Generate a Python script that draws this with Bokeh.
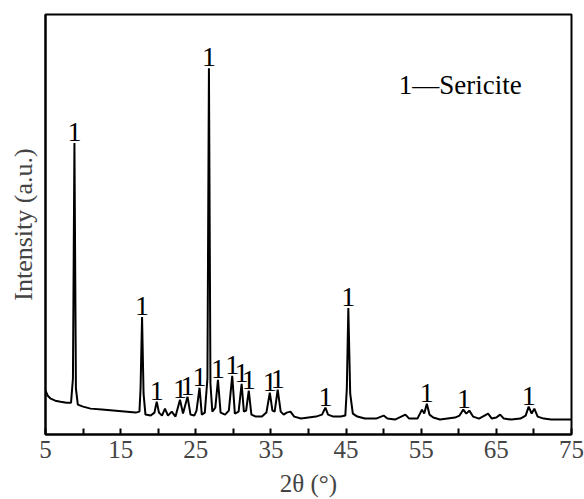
from bokeh.plotting import figure
from bokeh.models import ColumnDataSource, FixedTicker, Range1d, Label
from bokeh.core.properties import value
from bokeh.embed import file_html
from bokeh.resources import INLINE

# XRD pattern (2theta in degrees, intensity in arbitrary units)
two_theta = [5.0, 5.3, 5.7, 6.3, 7.0, 7.8, 8.4, 8.65, 8.85, 9.05, 9.3, 10.0, 11.0, 12.5, 14.0,
             15.5, 17.0, 17.5, 17.65, 17.85, 18.05, 18.3, 19.0, 19.5, 19.8, 20.1, 20.5, 20.9,
             21.3, 21.8, 22.3, 22.9, 23.3, 23.9, 24.3, 24.8, 25.1, 25.5, 25.8, 26.2, 26.55,
             26.75, 26.95, 27.2, 27.6, 27.95, 28.3, 28.9, 29.4, 29.85, 30.2, 30.7, 31.1, 31.4,
             31.7, 32.05, 32.4, 33.0, 33.8, 34.4, 34.85, 35.2, 35.5, 35.9, 36.3, 36.7, 37.1,
             37.6, 38.1, 39.0, 40.0, 41.0, 41.8, 42.25, 42.6, 43.3, 44.3, 44.9, 45.1, 45.3,
             45.55, 45.9, 46.5, 47.5, 49.0, 50.0, 50.5, 51.5, 52.9, 53.4, 54.5, 55.1, 55.4,
             55.75, 56.1, 56.6, 57.5, 58.5, 59.5, 60.1, 60.6, 61.0, 61.4, 61.9, 62.7, 63.9,
             64.4, 65.0, 65.5, 66.0, 67.0, 68.2, 68.9, 69.3, 69.7, 70.05, 70.5, 71.3, 72.3,
             73.5, 75.0]
intensity = [44, 39, 36, 34, 33, 32, 32, 56, 293, 46, 30, 28, 26, 25, 24,
             23, 22, 23, 46, 118, 41, 20, 19, 22, 33, 22, 19, 26,
             19, 23, 18, 35, 21, 38, 20, 19, 24, 47, 20, 22, 56,
             368, 51, 23, 27, 55, 22, 20, 24, 59, 21, 23, 51, 23,
             24, 44, 20, 18, 18, 22, 42, 24, 23, 45, 23, 20, 22,
             23, 18, 16, 17, 18, 20, 27, 20, 18, 18, 19, 46, 127,
             41, 21, 18, 16, 16, 19, 16, 15, 20, 16, 16, 25, 21,
             31, 20, 17, 15, 16, 17, 19, 25, 21, 24, 18, 16, 21,
             16, 17, 20, 16, 15, 16, 19, 28, 21, 26, 18, 16, 15,
             15, 15]

# Sericite peak markers ("1")
peak_theta = [8.85, 17.85, 19.8, 22.9, 23.9, 25.5, 26.75, 27.95, 29.85, 31.1, 32.05,
              34.85, 35.9, 42.25, 45.3, 55.75, 60.7, 69.3]
peak_height = [293, 118, 33, 35, 38, 47, 368, 55, 59, 51, 44,
               42, 45, 27, 127, 31, 25, 28]
peak_label = ["1"] * len(peak_theta)

x_ticks = [5, 15, 25, 35, 45, 55, 65, 75]
x_minor = [10, 20, 30, 40, 50, 60, 70]

SERIF = "Liberation Serif"

p = figure(width=584, height=499, output_backend="svg", toolbar_location=None,
           x_range=Range1d(5, 75), y_range=Range1d(0, 422),
           min_border_left=45, min_border_right=13, min_border_top=14, min_border_bottom=63)

p.background_fill_color = "white"
p.border_fill_color = "white"
p.outline_line_color = "black"
p.outline_line_width = 2
p.xgrid.visible = False
p.ygrid.visible = False

src = ColumnDataSource(dict(x=two_theta, y=intensity))
p.line("x", "y", source=src, line_color="black", line_width=2)

lab = ColumnDataSource(dict(x=peak_theta, y=peak_height, t=peak_label))
p.text("x", "y", text="t", source=lab, text_font=value(SERIF), text_font_size="28px",
       text_align="center", text_baseline="bottom", text_color="black", y_offset=-2)

p.add_layout(Label(x=52.0, y=351, text="1\u2014Sericite", text_font=SERIF,
                   text_font_size="27px", text_baseline="middle", text_color="black"))

xa = p.xaxis[0]
xa.ticker = FixedTicker(ticks=x_ticks, minor_ticks=x_minor)
xa.axis_label = "2\u03b8 (\u00b0)"
xa.axis_label_text_font = SERIF
xa.axis_label_text_font_style = "normal"
xa.axis_label_text_font_size = "25px"
xa.axis_label_standoff = 9
xa.major_label_text_font = SERIF
xa.major_label_text_font_size = "25px"
xa.major_label_standoff = 6
xa.major_tick_in = 6
xa.major_tick_out = 0
xa.minor_tick_in = 6
xa.minor_tick_out = 0
xa.axis_line_width = 2
xa.major_tick_line_width = 2
xa.minor_tick_line_width = 2

ya = p.yaxis[0]
ya.ticker = FixedTicker(ticks=[], minor_ticks=[])
ya.axis_label = "Intensity (a.u.)"
ya.axis_label_text_font = SERIF
ya.axis_label_text_font_style = "normal"
ya.axis_label_text_font_size = "26px"
ya.axis_label_standoff = 8
ya.axis_line_width = 2
ya.major_label_text_font_size = "0px"

open("out.html", "w").write(file_html(p, INLINE))
